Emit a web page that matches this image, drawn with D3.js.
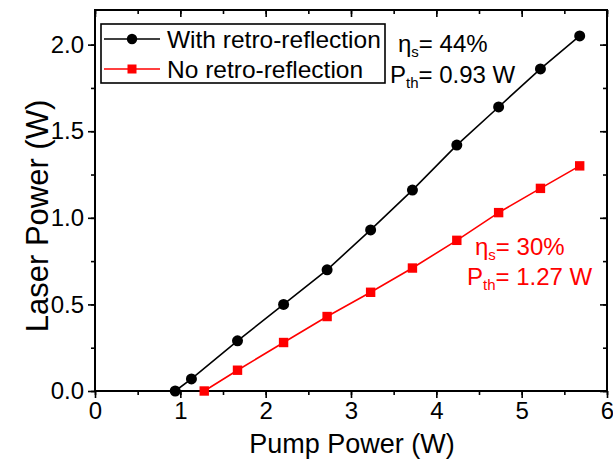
<!DOCTYPE html>
<html>
<head>
<meta charset="utf-8">
<script src="https://cdn.jsdelivr.net/npm/d3@7"></script>
<style>
  html, body { margin: 0; padding: 0; background: #fff; }
  svg { display: block; font-family: "Liberation Sans", Arial, sans-serif; }
</style>
</head>
<body>
<svg id="chart" width="613" height="461"></svg>
<script>
// Pump power (W) and laser output power (W) for both cavity configurations
const pumpWith = [0.94, 1.13, 1.67, 2.21, 2.72, 3.23, 3.72, 4.24, 4.73, 5.22, 5.68];
const laserWith = [0.00, 0.07, 0.29, 0.50, 0.70, 0.93, 1.16, 1.42, 1.64, 1.86, 2.05];
const pumpNo = [1.28, 1.67, 2.21, 2.72, 3.23, 3.72, 4.24, 4.73, 5.22, 5.68];
const laserNo = [0.00, 0.12, 0.28, 0.43, 0.57, 0.71, 0.87, 1.03, 1.17, 1.30];

const seriesNames = ["With retro-reflection", "No retro-reflection"];
const xTicks = [0, 1, 2, 3, 4, 5, 6];
const yTicks = [0.0, 0.5, 1.0, 1.5, 2.0];

const svg = d3.select("#chart");
const pLeft = 95, pRight = 607, pTop = 10, pBottom = 391;

const x = d3.scaleLinear().domain([0, 6]).range([pLeft, pRight]);
const y = d3.scaleLinear().domain([0, 2.2]).range([pBottom, pTop]);

const minorX = d3.range(0, 6.01, 0.5);
const minorY = d3.range(0, 2.21, 0.25);

// frame
svg.append("rect")
  .attr("x", pLeft).attr("y", pTop)
  .attr("width", pRight - pLeft).attr("height", pBottom - pTop)
  .attr("fill", "none").attr("stroke", "#000").attr("stroke-width", 2);

const tickStyle = g => g.selectAll("line").attr("stroke", "#000").attr("stroke-width", 1.6);
const labelStyle = g => g.selectAll("text").attr("font-size", 24).attr("fill", "#000")
  .attr("font-family", "Liberation Sans, Arial, sans-serif");

// bottom axis: outward major and minor ticks
const bx = svg.append("g").attr("transform", `translate(0,${pBottom})`);
bx.call(d3.axisBottom(x).tickValues(minorX).tickSize(4).tickFormat(""))
  .call(g => g.select(".domain").remove());
bx.append("g").call(d3.axisBottom(x).tickValues(xTicks).tickSize(7).tickPadding(4).tickFormat(d3.format("d")))
  .call(g => g.select(".domain").remove())
  .call(labelStyle);
tickStyle(bx);

// left axis
const ly = svg.append("g").attr("transform", `translate(${pLeft},0)`);
ly.call(d3.axisLeft(y).tickValues(minorY).tickSize(4).tickFormat(""))
  .call(g => g.select(".domain").remove());
ly.append("g").call(d3.axisLeft(y).tickValues(yTicks).tickSize(7).tickPadding(4).tickFormat(d3.format(".1f")))
  .call(g => g.select(".domain").remove())
  .call(labelStyle);
tickStyle(ly);

// top axis: inward ticks, no labels
const tx = svg.append("g").attr("transform", `translate(0,${pTop})`);
tx.call(d3.axisBottom(x).tickValues(minorX).tickSize(4).tickFormat(""))
  .call(g => g.select(".domain").remove());
tx.append("g").call(d3.axisBottom(x).tickValues(xTicks).tickSize(7).tickFormat(""))
  .call(g => g.select(".domain").remove());
tickStyle(tx);

// right axis: inward ticks, no labels
const ry = svg.append("g").attr("transform", `translate(${pRight},0)`);
ry.call(d3.axisLeft(y).tickValues(minorY).tickSize(4).tickFormat(""))
  .call(g => g.select(".domain").remove());
ry.append("g").call(d3.axisLeft(y).tickValues(yTicks).tickSize(7).tickFormat(""))
  .call(g => g.select(".domain").remove());
tickStyle(ry);

// axis titles
svg.append("text")
  .attr("x", 352).attr("y", 453)
  .attr("text-anchor", "middle").attr("font-size", 27)
  .text("Pump Power (W)");
svg.append("text")
  .attr("transform", `translate(48,216) rotate(-90)`)
  .attr("text-anchor", "middle").attr("font-size", 31)
  .text("Laser Power (W)");

// data lines and markers
const line = d3.line().x(d => x(d[0])).y(d => y(d[1]));
const withPts = pumpWith.map((p, i) => [p, laserWith[i]]);
const noPts = pumpNo.map((p, i) => [p, laserNo[i]]);

svg.append("path").datum(withPts).attr("d", line)
  .attr("fill", "none").attr("stroke", "#000").attr("stroke-width", 1.6);
svg.append("path").datum(noPts).attr("d", line)
  .attr("fill", "none").attr("stroke", "#ff0000").attr("stroke-width", 1.6);

svg.append("g").selectAll("circle").data(withPts).join("circle")
  .attr("cx", d => x(d[0])).attr("cy", d => y(d[1])).attr("r", 5.5)
  .attr("fill", "#000");
svg.append("g").selectAll("rect").data(noPts).join("rect")
  .attr("x", d => x(d[0]) - 4.7).attr("y", d => y(d[1]) - 4.7)
  .attr("width", 9.4).attr("height", 9.4)
  .attr("fill", "#ff0000");

// legend
const lg = svg.append("g");
lg.append("rect").attr("x", 101).attr("y", 24).attr("width", 284).attr("height", 59)
  .attr("fill", "#fff").attr("stroke", "#000").attr("stroke-width", 1.6);
const rows = [
  { name: seriesNames[0], color: "#000", shape: "circle", cy: 39 },
  { name: seriesNames[1], color: "#ff0000", shape: "square", cy: 69 }
];
rows.forEach(r => {
  lg.append("line").attr("x1", 104).attr("x2", 160).attr("y1", r.cy).attr("y2", r.cy)
    .attr("stroke", r.color).attr("stroke-width", 1.6);
  if (r.shape === "circle") {
    lg.append("circle").attr("cx", 132).attr("cy", r.cy).attr("r", 5.2).attr("fill", r.color);
  } else {
    lg.append("rect").attr("x", 127.5).attr("y", r.cy - 4.5).attr("width", 9).attr("height", 9).attr("fill", r.color);
  }
  lg.append("text").attr("x", 167).attr("y", r.cy + 8.5).attr("font-size", 24.5)
    .attr("fill", "#000").text(r.name);
});

// efficiency / threshold annotations
function annotate(xp, yp, main, sub, rest, color) {
  const t = svg.append("text").attr("x", xp).attr("y", yp).attr("font-size", 24).attr("fill", color);
  t.append("tspan").text(main);
  t.append("tspan").attr("font-size", 15).attr("dy", 5).text(sub);
  t.append("tspan").attr("dy", -5).text(rest);
}
annotate(398, 52, "η", "s", "= 44%", "#000");
annotate(390, 83, "P", "th", "= 0.93 W", "#000");
annotate(475, 255, "η", "s", "= 30%", "#ff0000");
annotate(467, 285, "P", "th", "= 1.27 W", "#ff0000");
</script>
</body>
</html>
